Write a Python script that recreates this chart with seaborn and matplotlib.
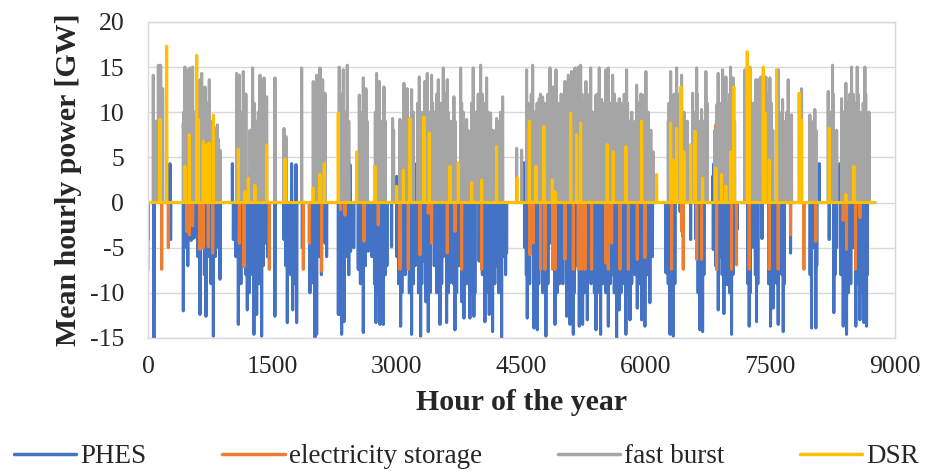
import matplotlib.pyplot as plt
import seaborn as sns
import numpy as np
import pandas as pd

sns.set_style("white")
plt.rcParams['font.family'] = ['Liberation Serif', 'DejaVu Serif']
plt.rcParams['axes.unicode_minus'] = False

# data (hour of the year -> mean hourly power in GW, 0 elsewhere)
n_hours = 8760
series_names = ['PHES', 'electricity storage', 'fast burst', 'DSR']
colors = ['#4472C4', '#ED7D31', '#A5A5A5', '#FFC000']

# PHES: tall spikes
phes_hours = [4, 72, 97, 265, 273, 426, 460, 520, 560, 627, 650, 699, 720, 788, 836, 868,
              1017, 1029, 1089, 1150, 1197, 1229, 1240, 1277, 1300, 1310, 1370, 1410, 1460, 1530,
              1639, 1679, 1700, 1731, 1744, 1784, 1792, 1860, 1952, 1990, 2012, 2033, 2060, 2113,
              2133, 2153, 2294, 2305, 2334, 2362, 2400, 2434, 2442, 2480, 2534, 2595, 2655, 2700,
              2747, 2796, 2836, 2880, 2936, 2996, 3000, 3045, 3100, 3177, 3220, 3237, 3286, 3310,
              3330, 3378, 3450, 3519, 3560, 3579, 3599, 3639, 3700, 3750, 3808, 3860, 3880, 3928,
              3960, 3990, 4030, 4061, 4113, 4153, 4200, 4262, 4290, 4322, 4531, 4543, 4571, 4620,
              4652, 4692, 4740, 4796, 4845, 4880, 4905, 4985, 5000, 5045, 5086, 5126, 5160, 5198,
              5238, 5295, 5320, 5359, 5399, 5420, 5455, 5495, 5548, 5600, 5648, 5680, 5720, 5760,
              5809, 5857, 5897, 5940, 5949, 5989, 6049, 6058, 6243, 6291, 6331, 6413, 6443, 6540,
              6600, 6652, 6684, 6805, 6813, 6820, 6860, 6873, 6893, 6900, 6941, 6981, 7000, 7033,
              7100, 7246, 7300, 7334, 7400, 7503, 7535, 7560, 7595, 7620, 7656, 7688, 7744, 7997,
              8020, 8049, 8090, 8210, 8266, 8300, 8339, 8359, 8379, 8400, 8419, 8500, 8531, 8580,
              8600, 8628, 8660]
phes_values = [-4.1, -15.0, 2.5, 4.3, -4.1, -12.0, -4.0, -4.2, -3.9, -12.4, -5.0, -12.6, -6.0, -14.8, -4.1, -8.5,
               4.3, -4.1, -13.5, -6.5, -11.9, 3.3, -7.0, -14.6, -5.5, -12.4, -14.8, -4.5, -5.0, -12.6,
               -4.1, -13.3, -6.0, 4.3, -11.9, 4.2, -13.3, -5.0, -10.0, -7.0, -15.2, -14.6, -6.0, 4.3,
               -4.5, -6.0, -12.4, -12.4, -14.6, -13.2, -6.0, 4.2, -5.4, -5.0, -7.4, -14.4, -5.4, -6.0,
               -13.3, -13.5, -13.5, -7.0, -4.9, 2.9, -6.0, -13.7, -8.0, -14.6, -7.0, 4.3, -14.8, -4.3,
               -6.5, -14.3, -7.0, -13.5, -6.0, 4.3, -13.3, -8.9, -14.1, -7.0, -12.8, 4.4, -12.8, -12.6,
               4.0, -6.5, -8.0, -13.2, -12.4, -14.3, -7.0, -15.2, -6.0, -5.6, 4.4, -5.0, -12.8, -5.0,
               -13.9, -14.1, -6.0, -14.8, -4.5, -7.0, -13.5, -5.4, -9.0, -12.6, -13.5, -14.6, -7.0, -13.7,
               -13.5, -13.0, -8.0, -6.0, -14.1, -7.0, -14.6, -8.3, -13.7, -8.0, -15.2, -11.9, -7.0, -14.6,
               -13.0, -5.6, -11.7, -6.0, -13.0, -13.7, -11.1, 4.3, -7.8, -14.6, -14.8, -1.0, -3.7, -4.1,
               -4.0, -14.1, -14.3, 2.9, -5.2, 4.3, -4.3, -11.9, -5.4, -6.0, -12.3, -9.1, -7.0, -14.6,
               -3.0, -13.7, -5.0, -13.2, -4.0, -13.7, -11.7, -6.0, -13.5, -5.0, -14.3, 4.3, -5.6, -13.9,
               -5.0, -13.9, 4.3, -4.1, -12.2, -5.0, 4.3, -5.4, -13.7, -6.0, -14.6, -5.0, -13.7, -13.0,
               -6.0, -13.3, -13.7]
# PHES: the denser mid-depth mass between the tall spikes
phes_mass_hours = [440, 480, 540, 600, 680, 760, 810, 850, 1060, 1120, 1180, 1220, 1260, 1340, 1390, 1440,
                   1660, 1720, 1770, 1960, 2000, 2090, 2320, 2350, 2420, 2560, 2620, 2730, 2770, 2810,
                   2860, 3020, 3060, 3150, 3200, 3260, 3300, 3350, 3400, 3480, 3540, 3620, 3680, 3720,
                   3780, 3840, 3900, 3940, 4080, 4130, 4180, 4230, 4310, 4560, 4600, 4670, 4710, 4760,
                   4820, 4930, 4960, 5060, 5100, 5140, 5220, 5260, 5340, 5380, 5440, 5480, 5520, 5570,
                   5620, 5660, 5700, 5740, 5780, 5830, 5870, 5920, 5970, 6020, 6080, 6270, 6310, 6350,
                   6630, 6670, 6700, 6840, 6920, 6960, 7010, 7050, 7230, 7260, 7320, 7350, 7480, 7520,
                   7580, 7640, 7670, 7980, 8060, 8280, 8350, 8390, 8440, 8470, 8550, 8610, 8640, 8670]
phes_mass_values = [-5, -7, -4, -6, -8, -9, -6, -5, -6, -9, -8, -10, -8, -9, -7, -6,
                    -7, -8, -9, -8, -9, -8, -9, -10, -8, -9, -7, -9, -10, -9,
                    -8, -9, -10, -10, -9, -10, -9, -11, -10, -10, -9, -10, -9, -10,
                    -11, -9, -10, -10, -10, -9, -9, -10, -8, -8, -9, -10, -9, -10,
                    -9, -10, -9, -10, -11, -10, -9, -10, -9, -10, -10, -9, -10, -9,
                    -10, -9, -10, -9, -10, -9, -8, -9, -10, -8, -6, -9, -10, -9,
                    -10, -9, -8, -7, -8, -9, -10, -8, -9, -10, -8, -9, -9, -10,
                    -9, -8, -9, -8, -7, -8, -8, -9, -10, -9, -9, -10, -9, -8]

storage_hours = [0, 165, 245, 466, 498, 538, 627, 667, 727, 780, 1101, 1157, 1462, 1872, 1944, 2093,
                 2322, 2374, 2603, 2775, 3037, 3137, 3278, 3378, 3418, 3607, 3700, 3780, 4021, 4604,
                 4644, 4732, 4784, 4877, 4905, 5025, 5126, 5186, 5226, 5266, 5347, 5519, 5548, 5588,
                 5688, 5789, 5897, 5989, 6311, 6431, 6451, 6612, 6672, 6684, 6844, 6853, 7033, 7093,
                 7246, 7487, 7595, 7744, 7905, 8049, 8379, 8419, 8527, 8580]
storage_values = [-7.4, -7.4, -5.0, -3.2, -3.6, -2.6, -5.2, -5.0, -4.9, -5.6, -4.5, -7.1, -7.4, -7.4, -4.5, -7.6,
                  -0.8, -1.4, -4.3, -2.5, -7.4, -7.4, -5.8, -1.2, -4.5, -5.6, -3.2, -7.4, -7.4, -5.8,
                  -4.5, -7.4, -7.4, -7.4, -7.4, -6.3, -7.4, -7.4, -7.4, -7.4, -7.4, -6.7, -7.4, -4.5,
                  -7.4, -7.4, -6.3, -6.1, -7.4, -3.2, -7.4, -6.3, -6.3, 8.0, 8.6, -7.4, -7.4, -6.9,
                  -7.4, -7.4, -7.4, -3.6, -7.4, -4.3, -2.0, -5.2, -7.4, -1.7]

# fast burst: tall spikes
burst_hours = [64, 90, 125, 153, 177, 426, 446, 466, 480, 506, 538, 560, 627, 647, 687, 700, 739, 808,
               836, 868, 1068, 1101, 1120, 1149, 1261, 1300, 1350, 1380, 1398, 1430, 1530, 1639, 1663,
               1852, 1992, 2033, 2073, 2080, 2105, 2133, 2305, 2354, 2380, 2402, 2547, 2570, 2595, 2627,
               2755, 2788, 2810, 2844, 2948, 3037, 3060, 3085, 3125, 3177, 3270, 3300, 3338, 3366, 3418,
               3450, 3499, 3530, 3559, 3607, 3650, 3687, 3768, 3800, 3840, 3920, 3950, 4009, 4050, 4081,
               4129, 4160, 4201, 4274, 4443, 4503, 4563, 4600, 4636, 4716, 4756, 4800, 4845, 4885, 4917,
               4960, 4997, 5025, 5050, 5066, 5106, 5146, 5186, 5214, 5250, 5278, 5335, 5380, 5399, 5439,
               5467, 5500, 5519, 5548, 5600, 5640, 5680, 5720, 5768, 5800, 5849, 5889, 5961, 6001, 6090,
               6271, 6299, 6320, 6371, 6400, 6431, 6500, 6564, 6612, 6640, 6672, 6724, 6853, 6872, 6900,
               6925, 6965, 6990, 7021, 7053, 7194, 7220, 7254, 7280, 7326, 7354, 7383, 7420, 7447, 7470,
               7495, 7530, 7595, 7648, 7680, 7716, 7756, 7877, 7977, 8000, 8037, 8198, 8250, 8300, 8359,
               8411, 8440, 8479, 8520, 8548, 8580, 8600, 8640, 8680]
burst_values = [14.1, 9.0, 15.2, 15.2, 12.6, 8.8, 15.0, 14.7, 11.0, 14.9, 15.0, 10.0, 13.6, 14.3, 12.8, 9.0, 13.6, 8.2,
                8.6, 5.8, 14.3, 14.1, 10.0, 14.5, 14.9, 9.0, 14.1, 8.0, 13.8, 11.7, 13.8, 8.2, 7.3,
                14.9, 13.4, 14.1, 14.9, 9.0, 13.6, 12.1, 15.0, 14.7, 10.0, 15.2, 11.9, 8.0, 13.8, 12.6,
                14.3, 13.4, 9.0, 12.8, 9.3, 9.2, 8.0, 13.2, 12.6, 12.5, 13.9, 10.0, 13.4, 14.3, 14.1,
                10.0, 13.6, 11.0, 14.9, 13.6, 9.0, 11.7, 14.9, 10.0, 9.2, 14.9, 10.0, 15.2, 11.0, 13.8,
                9.9, 8.0, 9.3, 11.7, 6.0, 5.8, 14.7, 10.0, 15.2, 11.5, 11.7, 9.0, 14.9, 12.8, 14.7,
                10.0, 9.3, 13.4, 10.0, 14.1, 14.5, 14.9, 15.0, 15.2, 11.0, 13.4, 14.9, 10.0, 11.9, 14.9,
                11.4, 10.0, 14.7, 14.9, 14.1, 11.0, 11.5, 10.0, 14.7, 9.0, 8.2, 13.0, 11.9, 14.5, 5.6,
                9.0, 14.5, 11.0, 14.9, 10.0, 14.1, 9.0, 12.1, 14.9, 9.0, 10.3, 14.5, 10.8, 14.3, 10.0,
                14.7, 13.9, 11.0, 15.0, 13.8, 14.7, 9.0, 15.0, 10.0, 13.6, 13.6, 13.9, 10.0, 13.9, 11.0,
                13.8, 8.0, 14.7, 11.4, 8.0, 13.6, 9.7, 12.6, 9.7, 8.0, 10.3, 12.3, 15.2, 8.0, 11.5,
                13.2, 10.0, 15.0, 11.0, 15.0, 10.0, 7.9, 15.0, 9.0]
# fast burst: the grey mass between the tall spikes
burst_mass_hours = [430, 520, 600, 660, 720, 760, 850, 1080, 1130, 1180, 1230, 1280, 1330, 1410, 2000, 2050,
                    2120, 2320, 2340, 2420, 2560, 2610, 2640, 2740, 2770, 2860, 2960, 3100, 3150, 3200,
                    3250, 3350, 3390, 3430, 3480, 3580, 3620, 3700, 3780, 3860, 3900, 3980, 4030, 4100,
                    4220, 4250, 4580, 4620, 4660, 4690, 4730, 4780, 4820, 4860, 4940, 4980, 5010, 5090,
                    5130, 5170, 5200, 5230, 5300, 5320, 5360, 5420, 5480, 5530, 5570, 5620, 5660, 5700,
                    5740, 5780, 5830, 5870, 5910, 5940, 5980, 6030, 6060, 6280, 6340, 6390, 6420, 6460,
                    6580, 6620, 6700, 6740, 6830, 6890, 6940, 7010, 7040, 7070, 7200, 7240, 7270, 7300,
                    7340, 7370, 7400, 7460, 7510, 7580, 7610, 7660, 7700, 7730, 7990, 8020, 8050, 8220,
                    8260, 8380, 8430, 8460, 8500, 8560, 8620, 8650, 8690]
burst_mass_values = [10, 12, 11, 10, 11, 9, 7, 11, 9, 12, 8, 11, 10, 9, 10, 11,
                     10, 11, 12, 9, 10, 10, 9, 10, 11, 9, 8, 10, 9, 10,
                     11, 12, 10, 11, 12, 12, 10, 9, 11, 8, 11, 12, 12, 10,
                     9, 10, 11, 12, 10, 11, 12, 11, 12, 10, 11, 12, 10, 12,
                     11, 12, 13, 12, 11, 12, 10, 12, 11, 12, 11, 12, 10, 11,
                     12, 11, 10, 9, 11, 12, 11, 10, 8, 11, 12, 12, 11, 10,
                     10, 12, 9, 11, 8, 11, 12, 12, 11, 9, 12, 12, 11, 11,
                     12, 11, 12, 12, 11, 12, 10, 9, 10, 9, 8, 9, 8, 10,
                     12, 10, 11, 12, 12, 12, 11, 12, 10]

dsr_hours = [145, 225, 446, 498, 587, 607, 667, 707, 739, 788, 1089, 1169, 1209, 1289, 1430, 1651,
             1992, 2073, 2125, 2293, 2514, 2735, 2996, 3077, 3157, 3326, 3390, 3639, 3740, 3900,
             4021, 4201, 4451, 4596, 4676, 4772, 4873, 4905, 5094, 5166, 5214, 5535, 5608, 5760,
             5949, 6130, 6299, 6331, 6371, 6423, 6459, 6540, 6592, 6684, 6844, 6913, 6965, 7021,
             7061, 7222, 7246, 7415, 7435, 7487, 7575, 7848, 7870, 8210, 8411, 8507]
dsr_values = [9.2, 17.3, 4.0, 7.5, 16.3, 9.2, 6.8, 6.4, 6.6, 9.7, 5.9, 1.2, 2.7, 1.9, 6.4, 4.8,
              1.6, 3.1, 4.3, 9.9, 5.6, 4.0, 1.8, 3.6, 9.3, 9.5, 7.7, 4.0, 4.4, 2.2,
              2.5, 6.2, 2.7, 9.0, 4.0, 8.4, 2.5, 1.2, 9.9, 7.5, 8.8, 6.4, 5.6, 6.2,
              9.0, 3.1, 8.8, 4.7, 8.2, 12.8, 5.6, 6.4, 7.9, 2.7, 3.8, 3.1, 1.8, 5.6,
              12.8, 16.7, 14.9, 15.0, 9.9, 4.7, 14.7, 12.1, 9.2, 8.2, 0.9, 4.0]


def hourly(parts):
    s = np.zeros(n_hours)
    for hours, values in parts:
        s[hours] = values
    return s


series_parts = [
    [(phes_mass_hours, phes_mass_values), (phes_hours, phes_values)],
    [(storage_hours, storage_values)],
    [(burst_mass_hours, burst_mass_values), (burst_hours, burst_values)],
    [(dsr_hours, dsr_values)],
]

df = pd.concat([
    pd.DataFrame({'hour': np.arange(n_hours), 'power': hourly(parts), 'series': name})
    for name, parts in zip(series_names, series_parts)
])

fig, ax = plt.subplots(figsize=(9.33, 4.76), dpi=100)
fig.subplots_adjust(left=0.1586, right=0.959, top=0.954, bottom=0.29)

sns.lineplot(data=df, x='hour', y='power', hue='series', hue_order=series_names,
             palette=colors, linewidth=2.2, estimator=None, ax=ax)

ax.set_xlim(0, 9000)
ax.set_ylim(-15, 20)
ax.set_xticks(range(0, 9001, 1500))
ax.set_yticks(range(-15, 21, 5))
ax.yaxis.grid(True, color='#d9d9d9', linewidth=1)
ax.set_axisbelow(True)
for sp in ax.spines.values():
    sp.set_color('#d9d9d9')
    sp.set_linewidth(1)
ax.tick_params(axis='both', length=0, labelsize=18.5)
ax.tick_params(axis='y', pad=17)
ax.tick_params(axis='x', pad=13)

ax.set_xlabel('Hour of the year', fontsize=21.5, fontweight='bold', labelpad=8)
ax.set_ylabel('Mean hourly power [GW]', fontsize=21.5, fontweight='bold', labelpad=6)

handles, labels = ax.get_legend_handles_labels()
ax.get_legend().remove()
leg = fig.legend(handles, labels, loc='center', bbox_to_anchor=(0.5, 0.04), ncol=4,
                 frameon=False, fontsize=19.5, handlelength=2.3, handletextpad=0.15,
                 columnspacing=2.8)
for line in leg.get_lines():
    line.set_linewidth(2.5)

fig.savefig('out.png', dpi=100)
